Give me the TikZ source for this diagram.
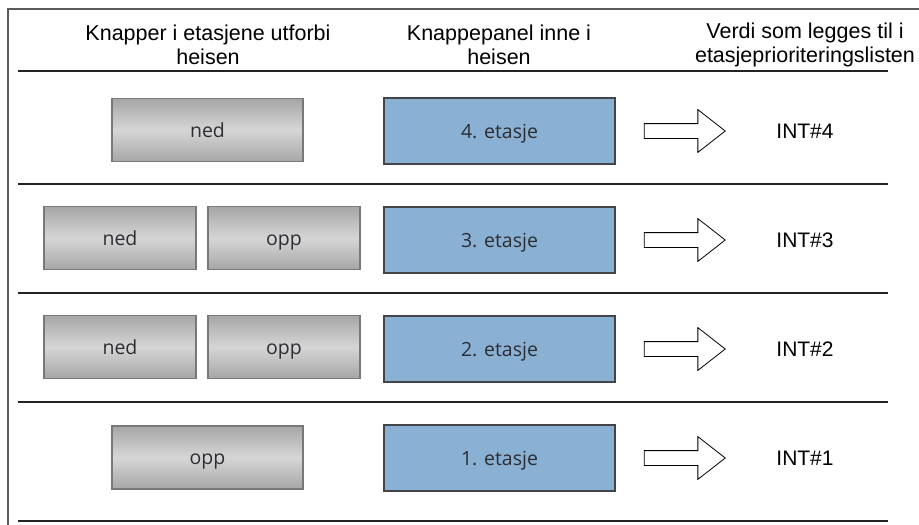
\documentclass[tikz,border=0pt]{standalone}
\usepackage{fontspec}
\setmainfont{Liberation Sans}
\newfontfamily\knappfont{Open Sans}
\usetikzlibrary{shapes.arrows}
\definecolor{Ramme}{RGB}{90, 90, 90}
\definecolor{Strek}{RGB}{35, 35, 35}
\definecolor{KnappTekst}{RGB}{45, 45, 52}
\definecolor{GraaMork}{RGB}{166, 166, 166}
\definecolor{GraaLys}{RGB}{214, 214, 214}
\definecolor{GraaKant}{RGB}{120, 120, 120}
\definecolor{Blaa}{RGB}{138, 177, 211}
\definecolor{BlaaKant}{RGB}{66, 68, 72}

\begin{document}
\begin{tikzpicture}[
          x=1pt, y=-1pt,
          hode/.style={font=\fontsize{21.5}{23.5}\selectfont, align=center},
          knapp/.style={draw=GraaKant, line width=1.6pt,
                        top color=GraaMork, bottom color=GraaMork, middle color=GraaLys,
                        font=\knappfont\fontsize{19.5}{22}\selectfont, text=KnappTekst,
                        minimum height=63pt, inner sep=0pt,
                        text height=18pt, text depth=4pt},
          bred/.style={knapp, minimum width=191pt},
          smal/.style={knapp, minimum width=152pt},
          panel/.style={draw=BlaaKant, fill=Blaa, line width=2pt,
                        font=\knappfont\fontsize{19.5}{22}\selectfont, text=KnappTekst,
                        minimum width=231pt, minimum height=66pt, inner sep=0pt,
                        text height=18pt, text depth=4pt},
          pil/.style={single arrow, draw=black, fill=white, line width=0.8pt,
                      minimum height=81pt, inner xsep=0pt, inner ysep=7pt,
                      text height=0pt, text depth=0pt, text width=0pt,
                      single arrow head extend=14pt, single arrow tip angle=76},
          verdi/.style={font=\fontsize{21}{23.5}\selectfont},
          skille/.style={draw=Strek, line width=1.4pt}
        ]
        \useasboundingbox (0,0) rectangle (919,525);
        % ramme
        \draw[Ramme, line width=1.4pt] (919,9) -- (8,9) -- (8,525);
        % overskrifter
        \node[hode] (h1) at (208,45) {Knapper i etasjene utforbi\\heisen};
        \node[hode] (h2) at (499,45) {Knappepanel inne i\\heisen};
        \node[hode] (h3) at (805,45) {Verdi som legges til i\\etasjeprioriteringslisten};
        % skillelinjer
        \foreach \y in {71, 184, 293, 402, 521}
          \draw[skille] (18,\y) -- (888,\y);
        % knapper utenfor heisen
        \node[bred] (k4ned) at (207.5,130) {ned};
        \node[smal] (k3ned) at (120,238) {ned};
        \node[smal] (k3opp) at (284,238) {opp};
        \node[smal] (k2ned) at (120,347) {ned};
        \node[smal] (k2opp) at (284,347) {opp};
        \node[bred] (k1opp) at (207.5,457.5) {opp};
        % panel, pil og verdi
        \foreach \n/\y in {4/131, 3/240, 2/349, 1/458} {
          \node[panel] (p\n) at (499.5,\y) {\n. etasje};
          \node[pil] (a\n) at (680,\y) {};
          \node[verdi] (v\n) at (805,\y) {INT\#\n};
        }
      \end{tikzpicture}
\end{document}
